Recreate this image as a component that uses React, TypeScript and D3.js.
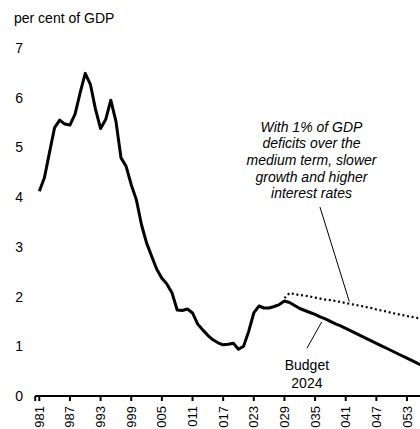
import React from "react";
import * as d3 from "d3";

const W = 420;
const H = 429;

const histYears = [
  1981, 1982, 1983, 1984, 1985, 1986, 1987, 1988, 1989, 1990, 1991, 1992, 1993, 1994, 1995, 1996, 1997, 1998, 1999, 2000,
  2001, 2002, 2003, 2004, 2005, 2006, 2007, 2008, 2009, 2010, 2011, 2012, 2013, 2014, 2015, 2016, 2017, 2018, 2019, 2020,
  2021, 2022, 2023, 2024, 2025, 2026, 2027, 2028, 2029, 2030, 2031, 2032, 2033, 2034, 2035, 2036, 2037, 2038, 2039, 2040,
  2041, 2042, 2043, 2044, 2045, 2046, 2047, 2048, 2049, 2050, 2051, 2052, 2053, 2054, 2055, 2056,
];
const budgetValues = [
  4.12, 4.39, 4.9, 5.4, 5.55, 5.47, 5.45, 5.67, 6.1, 6.49, 6.27, 5.77, 5.38, 5.56, 5.95, 5.53, 4.79, 4.62, 4.25, 3.95,
  3.45, 3.08, 2.81, 2.55, 2.37, 2.25, 2.07, 1.73, 1.72, 1.75, 1.67, 1.45, 1.33, 1.22, 1.13, 1.07, 1.03, 1.04, 1.06, 0.94,
  1.0, 1.3, 1.67, 1.81, 1.77, 1.77, 1.8, 1.84, 1.91, 1.88, 1.82, 1.76, 1.72, 1.68, 1.64, 1.59, 1.55, 1.5, 1.45, 1.41,
  1.36, 1.31, 1.26, 1.21, 1.16, 1.11, 1.06, 1.01, 0.96, 0.91, 0.86, 0.81, 0.76, 0.71, 0.66, 0.61,
];

const scenarioYears = [
  2029, 2030, 2031, 2032, 2033, 2034, 2035, 2036, 2037, 2038, 2039, 2040, 2041, 2042, 2043, 2044, 2045, 2046, 2047, 2048,
  2049, 2050, 2051, 2052, 2053, 2054, 2055, 2056,
];
const scenarioValues = [
  1.97, 2.07, 2.05, 2.03, 2.02, 2.0, 1.98, 1.96, 1.94, 1.93, 1.91, 1.89, 1.87, 1.85, 1.83, 1.81, 1.79, 1.77, 1.74, 1.72,
  1.7, 1.67, 1.65, 1.63, 1.61, 1.59, 1.57, 1.55,
];

const tickYears = [1981, 1987, 1993, 1999, 2005, 2011, 2017, 2023, 2029, 2035, 2041, 2047, 2053];
const tickLabels = ["981", "987", "993", "999", "005", "011", "017", "023", "029", "035", "041", "047", "053"];
const yTicks = [0, 1, 2, 3, 4, 5, 6, 7];

const yTitle = "per cent of GDP";
const scenarioNote = ["With 1% of GDP", "deficits over the", "medium term, slower", "growth and higher", "interest rates"];
const budgetNote = ["Budget", "2024"];

const FONT = "'Liberation Sans', Arial, sans-serif";

export default function App() {
  const x = d3.scaleLinear().domain([1981, 2053]).range([39.3, 407]);
  const y = d3.scaleLinear().domain([0, 7]).range([396, 48]);

  const line = d3
    .line<[number, number]>()
    .x((d) => x(d[0]))
    .y((d) => y(d[1]));

  const budgetPts = histYears.map((yr, i) => [yr, budgetValues[i]] as [number, number]);
  const scenPts = scenarioYears.map((yr, i) => [yr, scenarioValues[i]] as [number, number]);

  const axisStart = x(1980.2);

  return (
    <svg
      width={W}
      height={H}
      style={{ position: "absolute", left: 0, top: 0, background: "#fff" }}
      fontFamily={FONT}
    >
      <text x={14} y={23} fontSize={14} fill="#000">
        {yTitle}
      </text>
      {yTicks.map((t) => (
        <text key={t} x={23} y={y(t) + 5} fontSize={14} textAnchor="end" fill="#000">
          {t}
        </text>
      ))}

      {/* x axis */}
      <line x1={axisStart} x2={W} y1={y(0)} y2={y(0)} stroke="#000" strokeWidth={2} />
      <line x1={axisStart} x2={axisStart} y1={y(0)} y2={y(0) + 5} stroke="#000" strokeWidth={2} />
      {tickYears.map((t, i) => (
        <g key={t}>
          <line x1={x(t)} x2={x(t)} y1={y(0)} y2={y(0) + 5} stroke="#000" strokeWidth={2} />
          <text
            transform={`translate(${x(t) + 4.5},${y(0) + 10}) rotate(-90)`}
            fontSize={13}
            textAnchor="end"
            fill="#000"
          >
            {tickLabels[i]}
          </text>
        </g>
      ))}

      {/* scenario dotted line */}
      <path
        d={line(scenPts) || ""}
        fill="none"
        stroke="#000"
        strokeWidth={2.2}
        strokeDasharray="2 2.7"
      />
      {/* budget solid line */}
      <path d={line(budgetPts) || ""} fill="none" stroke="#000" strokeWidth={3} strokeLinejoin="round" />

      {/* annotation leaders */}
      <line x1={x(2035.96)} y1={y(3.8)} x2={x(2041.7)} y2={y(1.9)} stroke="#000" strokeWidth={1} />
      <line x1={x(2036.3)} y1={y(1.49)} x2={x(2033.4)} y2={y(0.96)} stroke="#000" strokeWidth={1} />

      {scenarioNote.map((s, i) => (
        <text
          key={s}
          x={x(2034.3)}
          y={y(5.42) + 5 + i * 16.7}
          fontSize={14}
          fontStyle="italic"
          textAnchor="middle"
          fill="#000"
        >
          {s}
        </text>
      ))}
      {budgetNote.map((s, i) => (
        <text key={s} x={x(2033.4)} y={y(0.62) + 5 + i * 17.7} fontSize={14} textAnchor="middle" fill="#000">
          {s}
        </text>
      ))}
    </svg>
  );
}
